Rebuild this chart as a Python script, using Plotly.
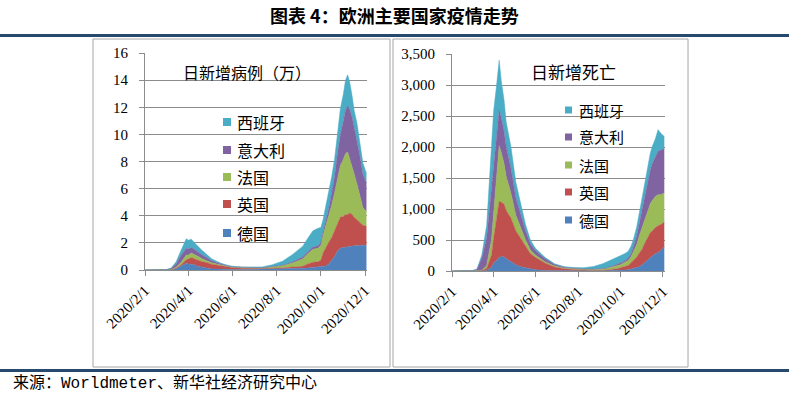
import plotly.graph_objects as go

W, H = 789, 397

dates = ["2020-02-01","2020-02-15","2020-03-01","2020-03-08","2020-03-15","2020-03-22","2020-03-29",
         "2020-04-01","2020-04-05","2020-04-09","2020-04-12","2020-04-16","2020-04-19","2020-04-26",
         "2020-05-03","2020-05-10","2020-05-17","2020-05-24","2020-05-31",
         "2020-06-14","2020-06-28","2020-07-12","2020-07-26","2020-08-09","2020-08-23",
         "2020-09-06","2020-09-13","2020-09-20","2020-09-27",
         "2020-10-01","2020-10-04","2020-10-08","2020-10-12","2020-10-16","2020-10-20","2020-10-24","2020-10-28",
         "2020-11-01","2020-11-04","2020-11-07","2020-11-10","2020-11-13","2020-11-16","2020-11-20","2020-11-24","2020-11-28",
         "2020-12-03"]

countries = ["德国", "英国", "法国", "意大利", "西班牙"]
colors = ["#4F81BD", "#C0504D", "#9BBB59", "#8064A2", "#4BACC6"]

# daily new cases (10k)
cases_de = [0,0,0,0.02,0.1,0.3,0.5, 0.45,0.45,0.4,0.3,0.25,0.2,0.15, 0.08,0.07,0.05,0.04,0.03,
            0.03,0.04,0.04,0.06,0.08,0.12, 0.12,0.15,0.18,0.2,
            0.22,0.25,0.3,0.45,0.7,1.0,1.4,1.6, 1.65,1.68,1.7,1.75,1.8,1.78,1.8,1.8,1.8, 1.82]
cases_uk = [0,0,0,0,0.02,0.08,0.25, 0.35,0.45,0.45,0.45,0.45,0.42,0.4, 0.35,0.3,0.25,0.2,0.15,
            0.1,0.08,0.06,0.07,0.08,0.1, 0.15,0.3,0.4,0.4,
            0.5,1.0,1.4,1.6,1.7,1.9,2.1,2.3, 2.3,2.4,2.4,2.45,2.3,2.1,1.9,1.7,1.5, 1.4]
cases_fr = [0,0,0,0.02,0.08,0.2,0.35, 0.3,0.35,0.3,0.3,0.25,0.22,0.15, 0.1,0.08,0.05,0.04,0.03,
            0.03,0.04,0.05,0.08,0.15,0.3, 0.55,0.75,0.95,1.0,
            1.1,1.3,1.6,1.9,2.4,2.8,3.3,3.8, 4.2,4.5,4.6,4.0,3.6,3.2,2.6,1.9,1.3, 1.1]
cases_it = [0,0,0.02,0.08,0.25,0.5,0.5, 0.45,0.42,0.38,0.35,0.3,0.3,0.22, 0.15,0.1,0.07,0.05,0.04,
            0.03,0.02,0.02,0.03,0.04,0.08, 0.14,0.15,0.16,0.18,
            0.22,0.25,0.4,0.6,0.9,1.2,1.8,2.3, 2.8,3.2,3.4,3.6,3.6,3.4,3.3,3.0,2.5, 2.1]
cases_es = [0,0,0,0.02,0.15,0.4,0.7, 0.65,0.6,0.5,0.45,0.4,0.35,0.25, 0.15,0.1,0.06,0.04,0.03,
            0.03,0.04,0.06,0.15,0.3,0.55, 0.8,1.0,1.2,1.3,
            1.1,0.9,1.0,1.1,1.2,1.3,1.6,1.9, 2.0,2.2,2.3,2.0,1.6,1.3,1.2,1.0,0.8, 0.7]

# daily new deaths
deaths_de = [0,0,0,0,0,10,60, 130,170,220,230,230,200,150, 100,70,50,30,20,
             10,5,5,5,5,5, 5,5,8,10,
             10,12,15,20,30,40,50,70, 100,130,160,190,220,250,280,300,330, 390]
deaths_uk = [0,0,0,0,5,30,200, 400,650,900,880,850,780,700, 550,450,350,250,200,
             120,60,30,20,10,5, 5,10,20,30,
             40,50,60,70,100,130,170,220, 250,300,330,370,400,400,420,430,420, 400]
deaths_fr = [0,0,0,0,5,50,250, 400,700,900,800,650,550,400, 250,180,100,60,40,
             20,15,10,10,10,15, 20,30,40,50,
             50,60,70,80,100,150,200,280, 350,400,430,450,470,490,500,500,480, 470]
deaths_it = [0,0,5,30,200,450,850, 800,650,580,560,530,480,400, 280,200,150,100,70,
             50,25,15,10,8,8, 10,12,15,20,
             25,25,30,40,50,80,130,200, 280,350,430,500,550,600,650,700,720, 710]
deaths_es = [0,0,0,0,50,200,800, 850,800,800,600,500,400,350, 250,180,100,60,40,
             20,10,10,10,20,40, 80,100,120,130,
             130,120,110,110,120,130,150,170, 200,230,250,260,270,280,280,350,270, 200]

cases = [cases_de, cases_uk, cases_fr, cases_it, cases_es]
deaths = [deaths_de, deaths_uk, deaths_fr, deaths_it, deaths_es]

tick_dates = ["2020-02-01", "2020-04-01", "2020-06-01", "2020-08-01", "2020-10-01", "2020-12-01"]
tick_text = ["2020/2/1", "2020/4/1", "2020/6/1", "2020/8/1", "2020/10/1", "2020/12/1"]
cases_ticks = [0, 2, 4, 6, 8, 10, 12, 14, 16]
deaths_ticks = [0, 500, 1000, 1500, 2000, 2500, 3000, 3500]

title_text = "图表 4：欧洲主要国家疫情走势"
left_title = "日新增病例（万）"
right_title = "日新增死亡"
source_text = "来源：Worldmeter、新华社经济研究中心"

def px(x):
    return x / W

def py(y):
    return 1 - y / H

fig = go.Figure()
for name, col, vals in zip(countries, colors, cases):
    fig.add_trace(go.Scatter(x=dates, y=vals, name=name, stackgroup="cases", mode="lines",
                             line=dict(width=0.5, color=col), fillcolor=col,
                             xaxis="x", yaxis="y", showlegend=False))
for name, col, vals in zip(countries, colors, deaths):
    fig.add_trace(go.Scatter(x=dates, y=vals, name=name, stackgroup="deaths", mode="lines",
                             line=dict(width=0.5, color=col), fillcolor=col,
                             xaxis="x2", yaxis="y2", showlegend=False))

grid = "#8C8C8C"
tickfont_y = dict(family="Liberation Serif, Times New Roman, serif", size=15, color="#000000")
tickfont_x = dict(family="Liberation Serif, Times New Roman, serif", size=15, color="#000000")

xcommon = dict(type="date", tickvals=tick_dates, ticktext=tick_text, tickangle=-45,
               showline=True, linecolor=grid, linewidth=1, ticks="outside", ticklen=5,
               tickcolor=grid, showgrid=False, zeroline=False, tickfont=tickfont_x,
               automargin=False, fixedrange=True)
ycommon = dict(showline=True, linecolor=grid, linewidth=1, ticks="outside", ticklen=5,
               tickcolor=grid, showgrid=True, gridcolor=grid, gridwidth=1, zeroline=False,
               tickfont=tickfont_y, automargin=False, ticklabelstandoff=8, fixedrange=True)

fig.update_layout(
    width=W, height=H, margin=dict(l=0, r=0, t=0, b=0),
    paper_bgcolor="white", plot_bgcolor="white", showlegend=False,
    xaxis=dict(xcommon, domain=[px(145), px(367)], range=["2020-02-01", "2020-12-03 18:00"], anchor="y"),
    yaxis=dict(ycommon, domain=[py(270), py(53)], range=[0, 16], tickvals=cases_ticks, anchor="x"),
    xaxis2=dict(xcommon, domain=[px(452), px(665)], range=["2020-02-01", "2020-12-04"], anchor="y2"),
    yaxis2=dict(ycommon, domain=[py(271), py(54)], range=[0, 3500], tickvals=deaths_ticks,
                tickformat=",", anchor="x2"),
)

shapes = []
# top and bottom rules
shapes.append(dict(type="line", xref="paper", yref="paper", x0=0, x1=1, y0=py(35.5), y1=py(35.5),
                   line=dict(color="#27496D", width=3)))
shapes.append(dict(type="line", xref="paper", yref="paper", x0=0, x1=1, y0=py(370.5), y1=py(370.5),
                   line=dict(color="#27496D", width=3)))
# chart boxes
for x0, x1 in [(93, 390), (393, 688)]:
    shapes.append(dict(type="rect", xref="paper", yref="paper", x0=px(x0), x1=px(x1),
                       y0=py(367), y1=py(39), line=dict(color="#A6A6A6", width=1),
                       fillcolor="rgba(0,0,0,0)", layer="below"))

annotations = []
annotations.append(dict(text="<b>" + title_text + "</b>", xref="paper", yref="paper",
                        x=px(394), y=py(15), xanchor="center", yanchor="middle", showarrow=False,
                        font=dict(family="Noto Sans CJK SC", size=18, color="#000000")))
annotations.append(dict(text=source_text, xref="paper", yref="paper",
                        x=px(11), y=py(383), xanchor="left", yanchor="middle", showarrow=False,
                        font=dict(family="Liberation Mono, Noto Sans CJK SC", size=16, color="#000000")))
annotations.append(dict(text=left_title, xref="paper", yref="paper",
                        x=px(181), y=py(72), xanchor="left", yanchor="middle", showarrow=False,
                        font=dict(family="Noto Sans CJK SC", size=16, color="#000000")))
annotations.append(dict(text=right_title, xref="paper", yref="paper",
                        x=px(529), y=py(71), xanchor="left", yanchor="middle", showarrow=False,
                        font=dict(family="Noto Sans CJK SC", size=17, color="#000000")))

# manual legends (top to bottom: reversed stack order)
left_rows = [122, 150, 177, 204, 233]
right_rows = [110, 137, 165, 192, 220]
order = list(range(len(countries)))[::-1]
for (mx, tx, rows, msz, fsz) in [(223, 235, left_rows, 8, 16), (565, 577, right_rows, 7, 15)]:
    for row, i in zip(rows, order):
        shapes.append(dict(type="rect", xref="paper", yref="paper",
                           x0=px(mx), x1=px(mx + msz), y0=py(row + msz / 2), y1=py(row - msz / 2),
                           fillcolor=colors[i], line=dict(width=0)))
        annotations.append(dict(text=countries[i], xref="paper", yref="paper",
                                x=px(tx), y=py(row), xanchor="left", yanchor="middle", showarrow=False,
                                font=dict(family="Noto Sans CJK SC", size=fsz, color="#000000")))

fig.update_layout(shapes=shapes, annotations=annotations)
fig.write_html("out.html", config={"displayModeBar": False, "staticPlot": True},
               post_script="document.body.style.margin='0px';document.body.style.overflow='hidden';")
